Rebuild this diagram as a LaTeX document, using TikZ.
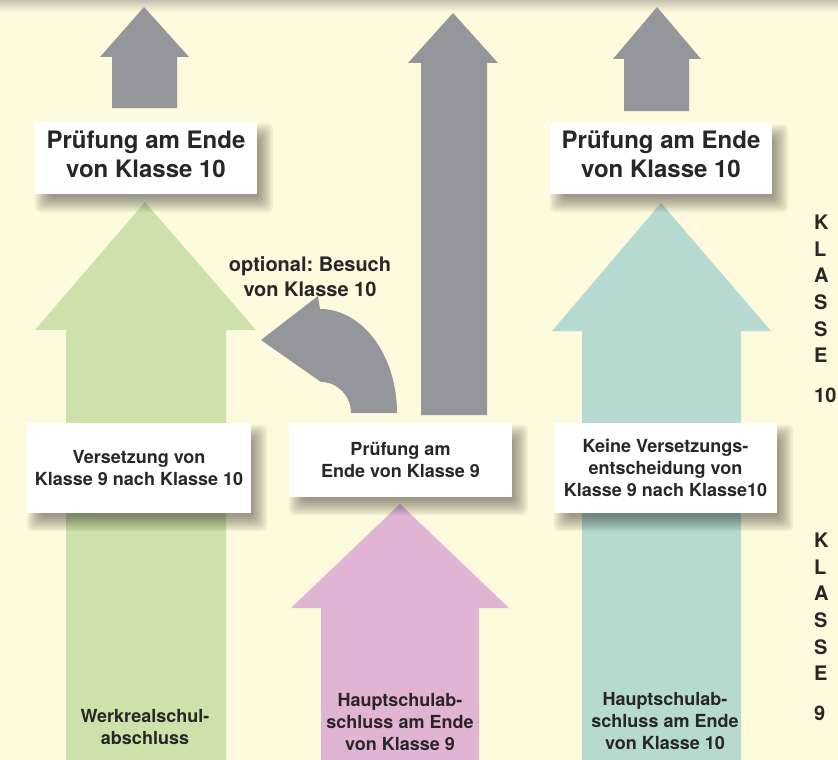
\documentclass[tikz,border=0pt]{standalone}
\usepackage{fontspec}
\setmainfont{TeX Gyre Heros}
\frenchspacing
\definecolor{bg}{RGB}{254,250,221}
\definecolor{topband}{RGB}{196,194,176}
\definecolor{arrgrey}{RGB}{148,150,156}
\definecolor{agreen}{RGB}{205,226,170}
\definecolor{ateal}{RGB}{182,218,209}
\definecolor{apink}{RGB}{226,180,212}
\definecolor{txt}{RGB}{40,38,38}
\pgfdeclarelayer{back}
\pgfdeclarelayer{shade}
\pgfsetlayers{back,shade,main}
\tikzset{
  whitebox/.style={fill=white, inner sep=0pt, align=center, text=txt},
  bigtxt/.style={font=\fontsize{24}{29}\selectfont\bfseries},
  smalltxt/.style={font=\fontsize{18}{22}\selectfont\bfseries},
  sidetxt/.style={font=\fontsize{20}{26.6}\selectfont\bfseries},
  lbl/.style={text=txt, align=center, inner sep=0pt},
}
\newcommand\softshadow[1]{%
  \foreach \r in {-6,-4,...,8}{%
    \fill[black,opacity=0.055,rounded corners=5pt]
      ([shift={(8-\r,10-\r)}]#1.north west) rectangle ([shift={(8+\r,10+\r)}]#1.south east);}}
\begin{document}
\begin{tikzpicture}[x=1pt,y=-1pt]
\useasboundingbox (0,0) rectangle (838,760);
\begin{pgfonlayer}{back}
\fill[bg] (0,0) rectangle (838,760);
\shade[top color=topband, bottom color=bg] (0,0) rectangle (838,12);
% grey arrows at top
\fill[arrgrey] (112,108) -- (112,57) -- (100,57) -- (144,7) -- (189,57) -- (177,57) -- (177,108) -- cycle;
\fill[arrgrey] (421,415) -- (421,63) -- (408,63) -- (453,13) -- (498,63) -- (487,63) -- (487,415) -- cycle;
\fill[arrgrey] (624,111) -- (624,59) -- (613,59) -- (657,7) -- (701,59) -- (689,59) -- (689,111) -- cycle;
% coloured arrows
\fill[agreen] (66,760) -- (66,330) -- (35,330) -- (145,202) -- (256,330) -- (226,330) -- (226,760) -- cycle;
\fill[ateal] (582,760) -- (582,331) -- (552,331) -- (661,203) -- (771,331) -- (741,331) -- (741,760) -- cycle;
\fill[apink] (321,760) -- (321,608) -- (291,608) -- (400,504) -- (509,608) -- (479,608) -- (479,760) -- cycle;
% curved arrow
\fill[arrgrey] (397,413) arc[start angle=0, end angle=-90, x radius=77, y radius=104]
  -- (318,296) -- (261,340) -- (321,382)
  arc[start angle=-90, end angle=0, x radius=30, y radius=31] -- cycle;
\end{pgfonlayer}

% boxes
\node[whitebox, minimum width=222pt, minimum height=72pt] (t1) at (146,158) {};
\node[lbl, bigtxt] (t1txt) at (146,154) {Prüfung am Ende\\von Klasse 10};
\node[whitebox, minimum width=222pt, minimum height=71pt] (t2) at (661,158.5) {};
\node[lbl, bigtxt] (t2txt) at (661,154) {Prüfung am Ende\\von Klasse 10};
\node[whitebox, smalltxt, minimum width=224pt, minimum height=90pt] (v) at (139,468) {Versetzung von\\Klasse 9 nach Klasse 10};
\node[whitebox, smalltxt, minimum width=223pt, minimum height=74pt] (p9) at (400.5,460) {Prüfung am\\Ende von Klasse 9};
\node[whitebox, smalltxt, minimum width=223pt, minimum height=90pt] (k) at (665.5,468) {Keine Versetzungs-\\entscheidung von\\Klasse 9 nach Klasse10};
\begin{pgfonlayer}{shade}
\softshadow{t1}\softshadow{t2}\softshadow{v}\softshadow{p9}\softshadow{k}
\end{pgfonlayer}

% free labels
\node[lbl, font=\fontsize{20}{25}\selectfont\bfseries] (opt) at (310,277) {optional: Besuch\\von Klasse 10};
\node[lbl, smalltxt] (w) at (145,727) {Werkrealschul-\\abschluss};
\node[lbl, smalltxt] (h9) at (400,722) {Hauptschulab-\\schluss am Ende\\von Klasse 9};
\node[lbl, smalltxt] (h10) at (665,721) {Hauptschulab-\\schluss am Ende\\von Klasse 10};

% side labels
\node[lbl, align=left, anchor=north west, sidetxt] (k10) at (814,215) {K\\L\\A\\S\\S\\E\\[13pt]10};
\node[lbl, align=left, anchor=north west, sidetxt] (k9) at (814,533) {K\\L\\A\\S\\S\\E\\[13pt]9};
\end{tikzpicture}
\end{document}
